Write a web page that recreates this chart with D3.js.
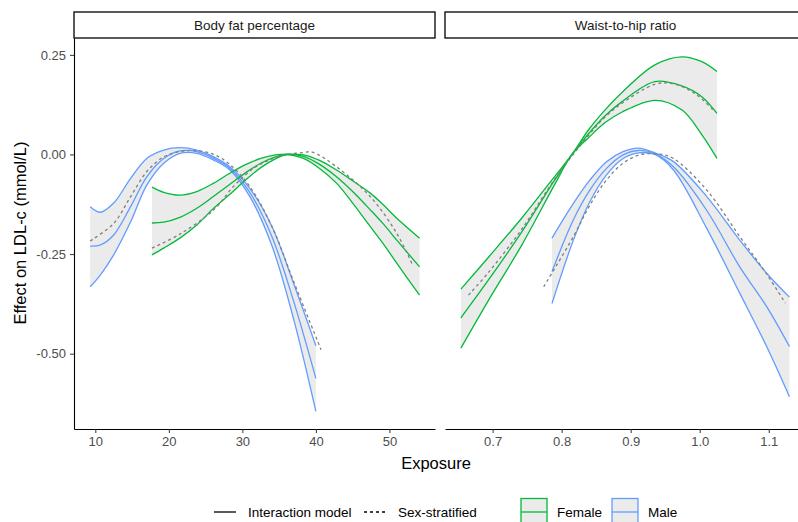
<!DOCTYPE html>
<html lang="en">
<head>
<meta charset="UTF-8">
<title>Effect on LDL-c by exposure</title>
<style>
    body { margin: 0; background: #fff; }
    svg { font-family: "Liberation Sans", Arial, sans-serif; }
    .tick text { fill: #4d4d4d; font-size: 13px; }
    .tick line { stroke: #333; }
    .domain { stroke: #000; stroke-width: 1.1px; }
</style>
</head>
<body>
<svg width="798" height="522"></svg>
<script src="https://d3js.org/d3.v7.min.js"></script>
<script>
    // ---- data ----
    // Body fat percentage, male (interaction model)
    const bfMaleX  = [9.3, 10.7, 12.5, 14.8, 17.0, 19.3, 21.5, 23.8, 26.1, 28.3, 31.0, 34.0, 37.0, 40.0];
    const bfMaleEst = [-0.230, -0.227, -0.202, -0.131, -0.056, -0.010, 0.009, 0.007, -0.010, -0.035, -0.095, -0.205, -0.370, -0.562];
    const bfMaleHi  = [-0.131, -0.145, -0.122, -0.060, -0.010, 0.011, 0.017, 0.011, -0.006, -0.031, -0.085, -0.180, -0.325, -0.480];
    const bfMaleLo  = [-0.332, -0.302, -0.252, -0.169, -0.077, -0.022, 0.003, 0.003, -0.014, -0.039, -0.105, -0.228, -0.415, -0.645];
    // Body fat percentage, male (sex-stratified)
    const bfMaleStratX = [9.3, 12.5, 14.8, 17.0, 19.3, 21.5, 23.5, 26.0, 28.3, 31.0, 34.0, 37.0, 40.7];
    const bfMaleStrat  = [-0.217, -0.173, -0.106, -0.043, -0.006, 0.007, 0.010, 0.001, -0.025, -0.080, -0.180, -0.320, -0.490];

    // Body fat percentage, female (interaction model)
    const bfFemX   = [17.7, 19.3, 21.5, 23.8, 26.1, 28.3, 30.5, 32.5, 34.5, 36.0, 38.3, 40.5, 42.8, 45.0, 47.4, 49.2, 51.0, 54.1];
    const bfFemEst = [-0.172, -0.170, -0.158, -0.135, -0.105, -0.075, -0.045, -0.022, -0.006, 0.000, -0.005, -0.025, -0.056, -0.093, -0.139, -0.175, -0.215, -0.282];
    const bfFemHi  = [-0.082, -0.095, -0.102, -0.093, -0.072, -0.047, -0.025, -0.010, -0.001, 0.001, -0.001, -0.015, -0.039, -0.066, -0.097, -0.127, -0.160, -0.210];
    const bfFemLo  = [-0.252, -0.235, -0.210, -0.177, -0.135, -0.100, -0.063, -0.033, -0.011, -0.001, -0.010, -0.035, -0.072, -0.122, -0.181, -0.225, -0.273, -0.353];
    // Body fat percentage, female (sex-stratified)
    const bfFemStratX = [17.7, 21.5, 26.1, 28.8, 31.5, 33.5, 35.6, 38.3, 39.5, 42.8, 47.4, 51.0, 53.2];
    const bfFemStrat  = [-0.235, -0.200, -0.139, -0.080, -0.035, -0.015, -0.002, 0.005, 0.006, -0.031, -0.106, -0.198, -0.280];

    // Waist-to-hip ratio, female (interaction model)
    const whrFemX   = [0.654, 0.694, 0.742, 0.790, 0.815, 0.839, 0.863, 0.887, 0.935, 0.974, 1.003, 1.025];
    const whrFemEst = [-0.410, -0.315, -0.195, -0.064, 0.000, 0.052, 0.097, 0.132, 0.183, 0.172, 0.145, 0.103];
    const whrFemHi  = [-0.338, -0.258, -0.160, -0.055, 0.000, 0.062, 0.112, 0.155, 0.225, 0.245, 0.233, 0.208];
    const whrFemLo  = [-0.486, -0.366, -0.228, -0.075, 0.000, 0.042, 0.080, 0.106, 0.136, 0.112, 0.050, -0.010];
    // Waist-to-hip ratio, female (sex-stratified)
    const whrFemStratX = [0.665, 0.694, 0.742, 0.790, 0.839, 0.863, 0.887, 0.935, 0.960, 0.993, 1.022];
    const whrFemStrat  = [-0.353, -0.296, -0.188, -0.062, 0.048, 0.094, 0.128, 0.176, 0.178, 0.153, 0.107];

    // Waist-to-hip ratio, male (interaction model)
    const whrMaleX   = [0.786, 0.817, 0.841, 0.865, 0.889, 0.911, 0.935, 0.962, 1.010, 1.058, 1.097, 1.130];
    const whrMaleEst = [-0.294, -0.164, -0.089, -0.035, -0.001, 0.010, 0.002, -0.031, -0.140, -0.282, -0.382, -0.482];
    const whrMaleHi  = [-0.210, -0.123, -0.064, -0.018, 0.007, 0.016, 0.004, -0.018, -0.105, -0.215, -0.298, -0.358];
    const whrMaleLo  = [-0.374, -0.215, -0.118, -0.051, -0.010, 0.004, 0.000, -0.039, -0.185, -0.348, -0.482, -0.608];
    // Waist-to-hip ratio, male (sex-stratified)
    const whrMaleStratX = [0.774, 0.817, 0.841, 0.865, 0.889, 0.913, 0.942, 0.962, 1.010, 1.058, 1.097, 1.124];
    const whrMaleStrat  = [-0.332, -0.206, -0.127, -0.064, -0.022, -0.001, 0.001, -0.010, -0.089, -0.206, -0.300, -0.373];

    const panelNames = ["Body fat percentage", "Waist-to-hip ratio"];
    const bfTicks = [10, 20, 30, 40, 50];
    const whrTicks = [0.7, 0.8, 0.9, 1.0, 1.1];
    const yTicks = [-0.5, -0.25, 0, 0.25];
    const sexes = ["Female", "Male"];
    const colors = { Female: "#00BA38", Male: "#619CFF" };

    // ---- layout ----
    const svg = d3.select("svg");
    const panelTop = 38, panelBottom = 429;
    const y = d3.scaleLinear().domain([-0.689, 0.2923]).range([panelBottom, panelTop]);

    const panels = [
        {
            name: panelNames[0],
            x: d3.scaleLinear().domain([7.1, 56.2]).range([74, 435]),
            ticks: bfTicks, fmt: d => d3.format("d")(d),
            series: [
                { sex: "Male", xs: bfMaleX, est: bfMaleEst, lo: bfMaleLo, hi: bfMaleHi, sx: bfMaleStratX, sv: bfMaleStrat },
                { sex: "Female", xs: bfFemX, est: bfFemEst, lo: bfFemLo, hi: bfFemHi, sx: bfFemStratX, sv: bfFemStrat }
            ]
        },
        {
            name: panelNames[1],
            x: d3.scaleLinear().domain([0.631, 1.154]).range([445, 806]),
            ticks: whrTicks, fmt: d => d3.format(".1f")(d),
            series: [
                { sex: "Female", xs: whrFemX, est: whrFemEst, lo: whrFemLo, hi: whrFemHi, sx: whrFemStratX, sv: whrFemStrat },
                { sex: "Male", xs: whrMaleX, est: whrMaleEst, lo: whrMaleLo, hi: whrMaleHi, sx: whrMaleStratX, sv: whrMaleStrat }
            ]
        }
    ];

    const curve = d3.curveCatmullRom.alpha(0.5);

    panels.forEach((p, pi) => {
        const g = svg.append("g");
        const [x0, x1] = p.x.range();

        // ribbons
        p.series.forEach(s => {
            const pts = s.xs.map((v, i) => ({ x: v, lo: s.lo[i], hi: s.hi[i] }));
            g.append("path")
                .datum(pts)
                .attr("fill", "#ebebeb")
                .attr("d", d3.area().curve(curve)
                    .x(d => p.x(d.x)).y0(d => y(d.lo)).y1(d => y(d.hi)));
        });

        // interaction model lines: estimate + CI bounds
        p.series.forEach(s => {
            [s.lo, s.est, s.hi].forEach(vals => {
                g.append("path")
                    .datum(s.xs.map((v, i) => [v, vals[i]]))
                    .attr("fill", "none")
                    .attr("stroke", colors[s.sex])
                    .attr("stroke-width", 1.3)
                    .attr("d", d3.line().curve(curve).x(d => p.x(d[0])).y(d => y(d[1])));
            });
        });

        // sex-stratified dashed lines
        p.series.forEach(s => {
            g.append("path")
                .datum(s.sx.map((v, i) => [v, s.sv[i]]))
                .attr("fill", "none")
                .attr("stroke", "#7f7f7f")
                .attr("stroke-width", 1.3)
                .attr("stroke-dasharray", "3,3")
                .attr("d", d3.line().curve(curve).x(d => p.x(d[0])).y(d => y(d[1])));
        });

        // x axis
        g.append("g")
            .attr("transform", `translate(0,${panelBottom})`)
            .call(d3.axisBottom(p.x).tickValues(p.ticks).tickFormat(p.fmt).tickSizeInner(4).tickSizeOuter(0).tickPadding(3))
            .call(a => a.selectAll(".tick text").attr("dy", "0.75em"));

        // y axis on the first panel only
        if (pi === 0) {
            g.append("g")
                .attr("transform", `translate(${x0},0)`)
                .call(d3.axisLeft(y).tickValues(yTicks)
                    .tickFormat(d => d3.format(".2f")(d).replace("\u2212", "-"))
                    .tickSizeInner(4).tickSizeOuter(0).tickPadding(4));
        }

        // strip
        g.append("rect")
            .attr("x", x0).attr("y", 12)
            .attr("width", x1 - x0).attr("height", 26)
            .attr("fill", "#fff").attr("stroke", "#000").attr("stroke-width", 1.3);
        g.append("text")
            .attr("x", (x0 + x1) / 2)
            .attr("y", 25).attr("dy", "0.35em")
            .attr("text-anchor", "middle")
            .attr("font-size", 13.5).attr("fill", "#1a1a1a")
            .text(p.name);
    });

    // axis titles
    svg.append("text")
        .attr("x", 436).attr("y", 469)
        .attr("text-anchor", "middle").attr("font-size", 16.5)
        .text("Exposure");
    svg.append("text")
        .attr("transform", "translate(26,233) rotate(-90)")
        .attr("text-anchor", "middle").attr("font-size", 16.5)
        .text("Effect on LDL-c (mmol/L)");

    // legend: line types
    const leg = svg.append("g").attr("font-size", 13.5);
    const ly = 512;
    leg.append("line").attr("x1", 214).attr("x2", 236).attr("y1", ly).attr("y2", ly)
        .attr("stroke", "#000").attr("stroke-width", 1.3);
    leg.append("text").attr("x", 248).attr("y", ly).attr("dy", "0.35em").text("Interaction model");
    leg.append("line").attr("x1", 364).attr("x2", 387).attr("y1", ly).attr("y2", ly)
        .attr("stroke", "#000").attr("stroke-width", 1.3).attr("stroke-dasharray", "3,3");
    leg.append("text").attr("x", 398).attr("y", ly).attr("dy", "0.35em").text("Sex-stratified");

    // legend: sex
    const keyX = [521, 612];
    sexes.forEach((s, i) => {
        const kx = keyX[i];
        leg.append("rect").attr("x", kx).attr("y", 498.5).attr("width", 26).attr("height", 27)
            .attr("fill", "#ebebeb").attr("stroke", colors[s]).attr("stroke-width", 1.3);
        leg.append("line").attr("x1", kx).attr("x2", kx + 26).attr("y1", ly).attr("y2", ly)
            .attr("stroke", colors[s]).attr("stroke-width", 1.3);
        leg.append("text").attr("x", kx + 36).attr("y", ly).attr("dy", "0.35em").text(s);
    });
</script>
</body>
</html>
